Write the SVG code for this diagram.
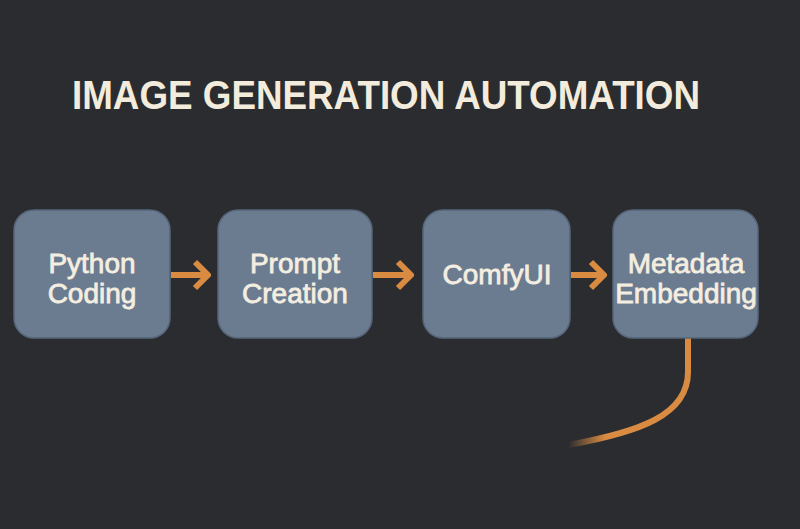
<svg xmlns="http://www.w3.org/2000/svg" width="800" height="529" viewBox="0 0 800 529">
<style>
.node rect{fill:#6b7b90;stroke:#56657a;stroke-width:1.5}
.node text{font-family:"Liberation Sans",Arial,sans-serif;font-size:28px;fill:#f4eee0;text-anchor:middle;stroke:#f4eee0;stroke-width:0.8}
.title{font-family:"Liberation Sans",Arial,sans-serif;font-weight:bold;font-size:40px;fill:#f3ecdc}
.conn{fill:none;stroke:#d98b42;stroke-width:6;stroke-linecap:butt;stroke-linejoin:round}
</style>
<defs>
<linearGradient id="fade" gradientUnits="userSpaceOnUse" x1="568" y1="0" x2="605" y2="0">
<stop offset="0" stop-color="#d98b42" stop-opacity="0"/>
<stop offset="1" stop-color="#d98b42" stop-opacity="1"/>
</linearGradient>
</defs>
<rect width="800" height="529" fill="#2a2c30"/>
<text class="title" x="72" y="109" textLength="628" lengthAdjust="spacingAndGlyphs">IMAGE GENERATION AUTOMATION</text>
<g id="connectors">
<path class="conn" d="M171 275 H206 M195 262 L208 275 L195 288"/>
<path class="conn" d="M373 275 H409 M398 262 L411 275 L398 288"/>
<path class="conn" d="M571 275 H602 M591 262 L604 275 L591 288"/>
<path class="conn" d="M688 338 L688 372 C688 415 640 432 568 445" style="stroke:url(#fade)"/>
</g>
<g id="python" class="node">
<rect x="14" y="210" width="156" height="128" rx="20"/>
<text x="92" y="273">Python</text>
<text x="92" y="303">Coding</text>
</g>
<g id="prompt" class="node">
<rect x="218" y="210" width="154" height="128" rx="20"/>
<text x="295" y="273">Prompt</text>
<text x="295" y="303">Creation</text>
</g>
<g id="comfyui" class="node">
<rect x="423" y="210" width="147" height="128" rx="20"/>
<text x="497" y="284">ComfyUI</text>
</g>
<g id="metadata" class="node">
<rect x="613" y="210" width="145" height="128" rx="20"/>
<text x="686" y="273">Metadata</text>
<text x="686" y="303">Embedding</text>
</g>
</svg>
